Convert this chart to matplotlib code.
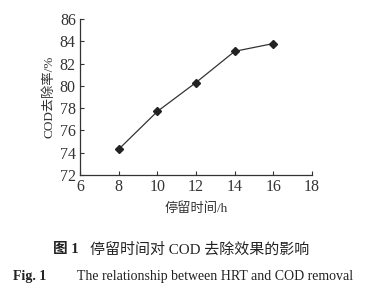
import matplotlib.pyplot as plt

hrt = [8, 10, 12, 14, 16]
cod_removal = [74.3, 77.7, 80.3, 83.1, 83.8]
xticks = [6, 8, 10, 12, 14, 16, 18]
yticks = [72, 74, 76, 78, 80, 82, 84, 86]

fams = ['Liberation Serif', 'Noto Sans CJK SC']
plt.rcParams['font.family'] = fams

fig = plt.figure(figsize=(3.65, 2.84), dpi=100)
ax = fig.add_axes([0.219, 0.384, 0.636, 0.549])
ax.plot(hrt, cod_removal, color='#333333', lw=0.9, marker='D', ms=4.5,
        mfc='#222222', mec='#222222')
ax.set_xlim(6, 18)
ax.set_ylim(72, 86)
ax.set_xticks(xticks)
ax.set_yticks(yticks)
ax.tick_params(direction='in', length=3, width=0.8, labelsize=11.5, colors='#333333', pad=3)
for s in ['top', 'right']:
    ax.spines[s].set_visible(False)
for s in ['left', 'bottom']:
    ax.spines[s].set_linewidth(0.9)
    ax.spines[s].set_color('#333333')
ax.set_xlabel('停留时间/h', fontsize=9.5, color='#333333', labelpad=5)
ax.set_ylabel('COD去除率/%', fontsize=9.5, color='#333333', labelpad=3)

fig.text(0.145, 0.12, '图 1', ha='left', va='center', fontsize=10.5, fontweight='bold', color='#222222')
fig.text(0.247, 0.12, '停留时间对 COD 去除效果的影响', ha='left', va='center', fontsize=10.8, color='#222222')
fig.text(0.036, 0.027, 'Fig. 1', ha='left', va='center', fontsize=10, fontweight='bold', color='#222222')
fig.text(0.967, 0.027, 'The relationship between HRT and COD removal', ha='right', va='center',
         fontsize=10, color='#222222')
fig.savefig('out.png', dpi=100)
